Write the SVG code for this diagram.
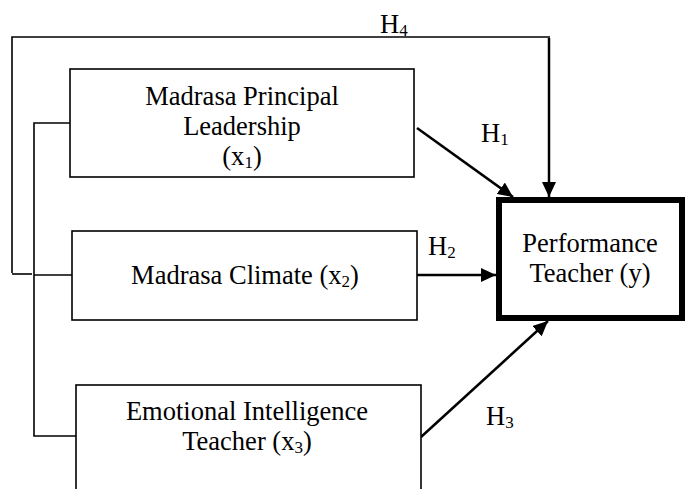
<svg xmlns="http://www.w3.org/2000/svg" width="685" height="489" viewBox="0 0 685 489" font-family="'Liberation Serif', 'Times New Roman', Tinos, 'DejaVu Serif', serif">
<style>
  text { font-family: 'Liberation Serif', 'Times New Roman', Tinos, 'DejaVu Serif', serif; font-size: 26.5px; fill: #000; text-anchor: middle; }
  .lbl { text-anchor: start; }
  .sub { font-size: 17px; }
  .box { fill: #fff; stroke: #000; stroke-width: 1.6; }
  .thin { fill: none; stroke: #000; stroke-width: 1.6; }
  .arr { fill: none; stroke: #000; stroke-width: 2.5; marker-end: url(#ah); }
</style>
<defs>
  <marker id="ah" markerUnits="userSpaceOnUse" markerWidth="16" markerHeight="14" refX="15" refY="7" orient="auto">
    <path d="M0,0 L15,7 L0,14 Z" fill="#000"/>
  </marker>
</defs>
<rect width="685" height="489" fill="#fff"/>

<g id="connectors">
  <polyline class="thin" points="12,273 12,37 550,37"/>
  <line class="thin" x1="12" y1="274" x2="32" y2="274"/>
  <polyline class="thin" points="70,123 34,123 34,436 76,436"/>
  <line class="thin" x1="34" y1="275" x2="72" y2="275"/>
  <line class="arr" x1="549" y1="38" x2="549" y2="197"/>
  <line class="arr" x1="417" y1="128" x2="513" y2="197"/>
  <line class="arr" x1="417" y1="275" x2="496" y2="275"/>
  <line class="arr" x1="421" y1="437" x2="548" y2="321"/>
  <text class="lbl" x="380" y="33">H<tspan class="sub" dy="3">4</tspan></text>
  <text class="lbl" x="481" y="142">H<tspan class="sub" dy="3">1</tspan></text>
  <text class="lbl" x="428" y="255">H<tspan class="sub" dy="3">2</tspan></text>
  <text class="lbl" x="486" y="425">H<tspan class="sub" dy="3">3</tspan></text>
</g>

<g id="x1">
  <rect class="box" x="70" y="69" width="344" height="108"/>
  <text x="242" y="105">Madrasa Principal</text>
  <text x="242" y="135">Leadership</text>
  <text x="242" y="165">(x<tspan class="sub" dy="3">1</tspan><tspan dy="-3">)</tspan></text>
</g>

<g id="x2">
  <rect class="box" x="72" y="231" width="345" height="89"/>
  <text x="245" y="284">Madrasa Climate (x<tspan class="sub" dy="3">2</tspan><tspan dy="-3">)</tspan></text>
</g>

<g id="x3">
  <rect class="box" x="76" y="385" width="345" height="120"/>
  <text x="247" y="420">Emotional Intelligence</text>
  <text x="247" y="450">Teacher (x<tspan class="sub" dy="3">3</tspan><tspan dy="-3">)</tspan></text>
</g>

<g id="y">
  <rect x="499" y="200" width="183" height="118" fill="#fff" stroke="#000" stroke-width="6"/>
  <text x="590" y="252">Performance</text>
  <text x="590" y="282">Teacher (y)</text>
</g>
</svg>
